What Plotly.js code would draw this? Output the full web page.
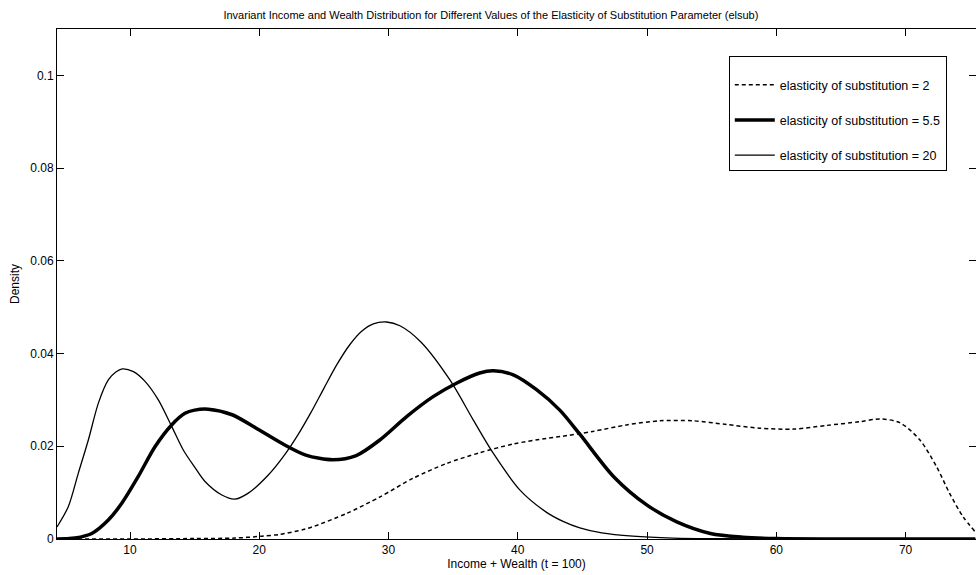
<!DOCTYPE html>
<html>
<head>
<meta charset="utf-8">
<script src="https://cdn.plot.ly/plotly-3.0.1.min.js"></script>
<style>html,body{margin:0;padding:0;background:#fff;}#chart{width:976px;height:575px;}</style>
</head>
<body>
<div id="chart"></div>
<script>
// Series: elasticity of substitution = 2 (dashed)
const xEl2 = [4.35, 10, 15, 18.1, 20.2, 21.6, 23.5, 24.2, 26.75, 29.35, 31.9, 34.5, 37.05, 39.65, 42.2, 43.3, 45.8, 48.4, 51.0, 53.55, 56.15, 58.7, 61.3, 63.9, 66.45, 68.0, 69.55, 71.1, 72.4, 73.4, 74.45, 75.4];
const yEl2 = [0, 0, 0.0001, 0.0002, 0.0006, 0.0010, 0.0021, 0.0027, 0.0055, 0.0091, 0.0131, 0.0163, 0.0186, 0.0205, 0.0217, 0.0221, 0.0232, 0.0246, 0.0255, 0.0255, 0.0247, 0.0239, 0.0237, 0.0245, 0.0253, 0.0259, 0.0251, 0.0214, 0.0156, 0.0099, 0.0048, 0.0015];

// Series: elasticity of substitution = 5.5 (thick)
const xEl55 = [4.35, 5.0, 5.75, 7.04, 8.32, 9.36, 10.64, 11.93, 13.22, 14.25, 15.0, 16.05, 17.9, 19.7, 21.7, 23.6, 25.7, 27.5, 29.3, 31.4, 33.45, 35.25, 37.05, 38.1, 39.65, 41.45, 43.25, 44.8, 47.4, 50.0, 52.3, 54.9, 57.4, 60, 65, 70, 75.4];
const yEl55 = [0, 0.00005, 0.0002, 0.0012, 0.0041, 0.0077, 0.0135, 0.0199, 0.0246, 0.0271, 0.0278, 0.0280, 0.0268, 0.0240, 0.0207, 0.0181, 0.0171, 0.0180, 0.0213, 0.0264, 0.0307, 0.0336, 0.0358, 0.0363, 0.0354, 0.0322, 0.0278, 0.0226, 0.0135, 0.0073, 0.0037, 0.0012, 0.0004, 0.0001, 0, 0, 0];

// Series: elasticity of substitution = 20 (thin)
const xEl20 = [4.35, 5.23, 6.0, 6.78, 7.55, 8.32, 8.9, 9.4, 10.26, 11.16, 12.19, 13.22, 14.12, 15.0, 15.8, 17.1, 18.1, 19.15, 20.7, 22.0, 23.0, 24.0, 25.0, 26.0, 27.0, 27.92, 28.82, 29.85, 30.88, 32.5, 34.75, 36.55, 38.1, 40.15, 42.2, 43.5, 44.8, 46.5, 48.9, 52, 56, 60, 65, 70, 75.4];
const yEl20 = [0.0026, 0.0070, 0.0142, 0.0214, 0.0293, 0.0343, 0.0360, 0.0367, 0.0361, 0.0340, 0.0300, 0.0243, 0.0192, 0.0155, 0.0124, 0.0095, 0.0086, 0.0099, 0.0138, 0.0183, 0.0225, 0.0273, 0.0325, 0.0376, 0.0419, 0.0448, 0.0464, 0.0468, 0.0460, 0.0425, 0.0343, 0.0257, 0.0185, 0.0106, 0.0058, 0.0038, 0.0024, 0.0013, 0.0006, 0.0002, 0.00005, 0, 0, 0, 0];

const seriesNames = ["elasticity of substitution = 2", "elasticity of substitution = 5.5", "elasticity of substitution = 20"];
const xTickVals = [10, 20, 30, 40, 50, 60, 70];
const xTickText = ["10", "20", "30", "40", "50", "60", "70"];
const yTickVals = [0, 0.02, 0.04, 0.06, 0.08, 0.1];
const yTickText = ["0", "0.02", "0.04", "0.06", "0.08", "0.1"];

const FONT = "Liberation Sans, Arial, sans-serif";

const traces = [
  {x: xEl2, y: yEl2, name: seriesNames[0], mode: "lines", legendgroup: "a",
   line: {color: "#000", width: 1.5, dash: "4px,3px", shape: "spline", smoothing: 0.8}},
  {x: xEl55, y: yEl55, name: seriesNames[1], mode: "lines", legendgroup: "b",
   line: {color: "#000", width: 3.5, shape: "spline", smoothing: 0.8}},
  {x: xEl20, y: yEl20, name: seriesNames[2], mode: "lines", legendgroup: "c",
   line: {color: "#000", width: 1.3, shape: "spline", smoothing: 0.8}}
];

const layout = {
  width: 976, height: 575,
  margin: {l: 57, r: 0, t: 29, b: 36, pad: 0},
  paper_bgcolor: "#fff", plot_bgcolor: "#fff",
  font: {family: FONT, color: "#000", size: 12},
  title: {text: "Invariant Income and Wealth Distribution for Different Values of the Elasticity of Substitution Parameter (elsub)",
          font: {family: FONT, size: 11, color: "#000"}, xref: "container", x: 0.503, xanchor: "center",
          yref: "container", y: 0.974, yanchor: "middle"},
  xaxis: {range: [4.35, 75.45], tickvals: xTickVals, ticktext: xTickText, ticks: "inside", ticklen: 7,
          tickcolor: "#000", showline: true, linecolor: "#000", linewidth: 1, mirror: "ticks",
          showgrid: false, zeroline: false, tickfont: {family: FONT, size: 12, color: "#000"},
          title: {text: "Income + Wealth (t = 100)", font: {family: FONT, size: 12, color: "#000"}, standoff: 3}},
  yaxis: {range: [0, 0.11], tickvals: yTickVals, ticktext: yTickText, ticks: "inside", ticklen: 7,
          tickcolor: "#000", showline: true, linecolor: "#000", linewidth: 1, mirror: "ticks",
          showgrid: false, zeroline: false, tickfont: {family: FONT, size: 12, color: "#000"},
          title: {text: "Density", font: {family: FONT, size: 12, color: "#000"}, standoff: 8}},
  legend: {x: 0.731, xanchor: "left", y: 0.947, yanchor: "top", bgcolor: "#fff", bordercolor: "#000",
           borderwidth: 1, font: {family: FONT, size: 12.5, color: "#000"}, traceorder: "grouped",
           tracegroupgap: 16, itemwidth: 40, title: {text: " ", font: {family: FONT, size: 10}}},
  showlegend: true
};

Plotly.newPlot("chart", traces, layout, {displayModeBar: false, staticPlot: true});
</script>
</body>
</html>
